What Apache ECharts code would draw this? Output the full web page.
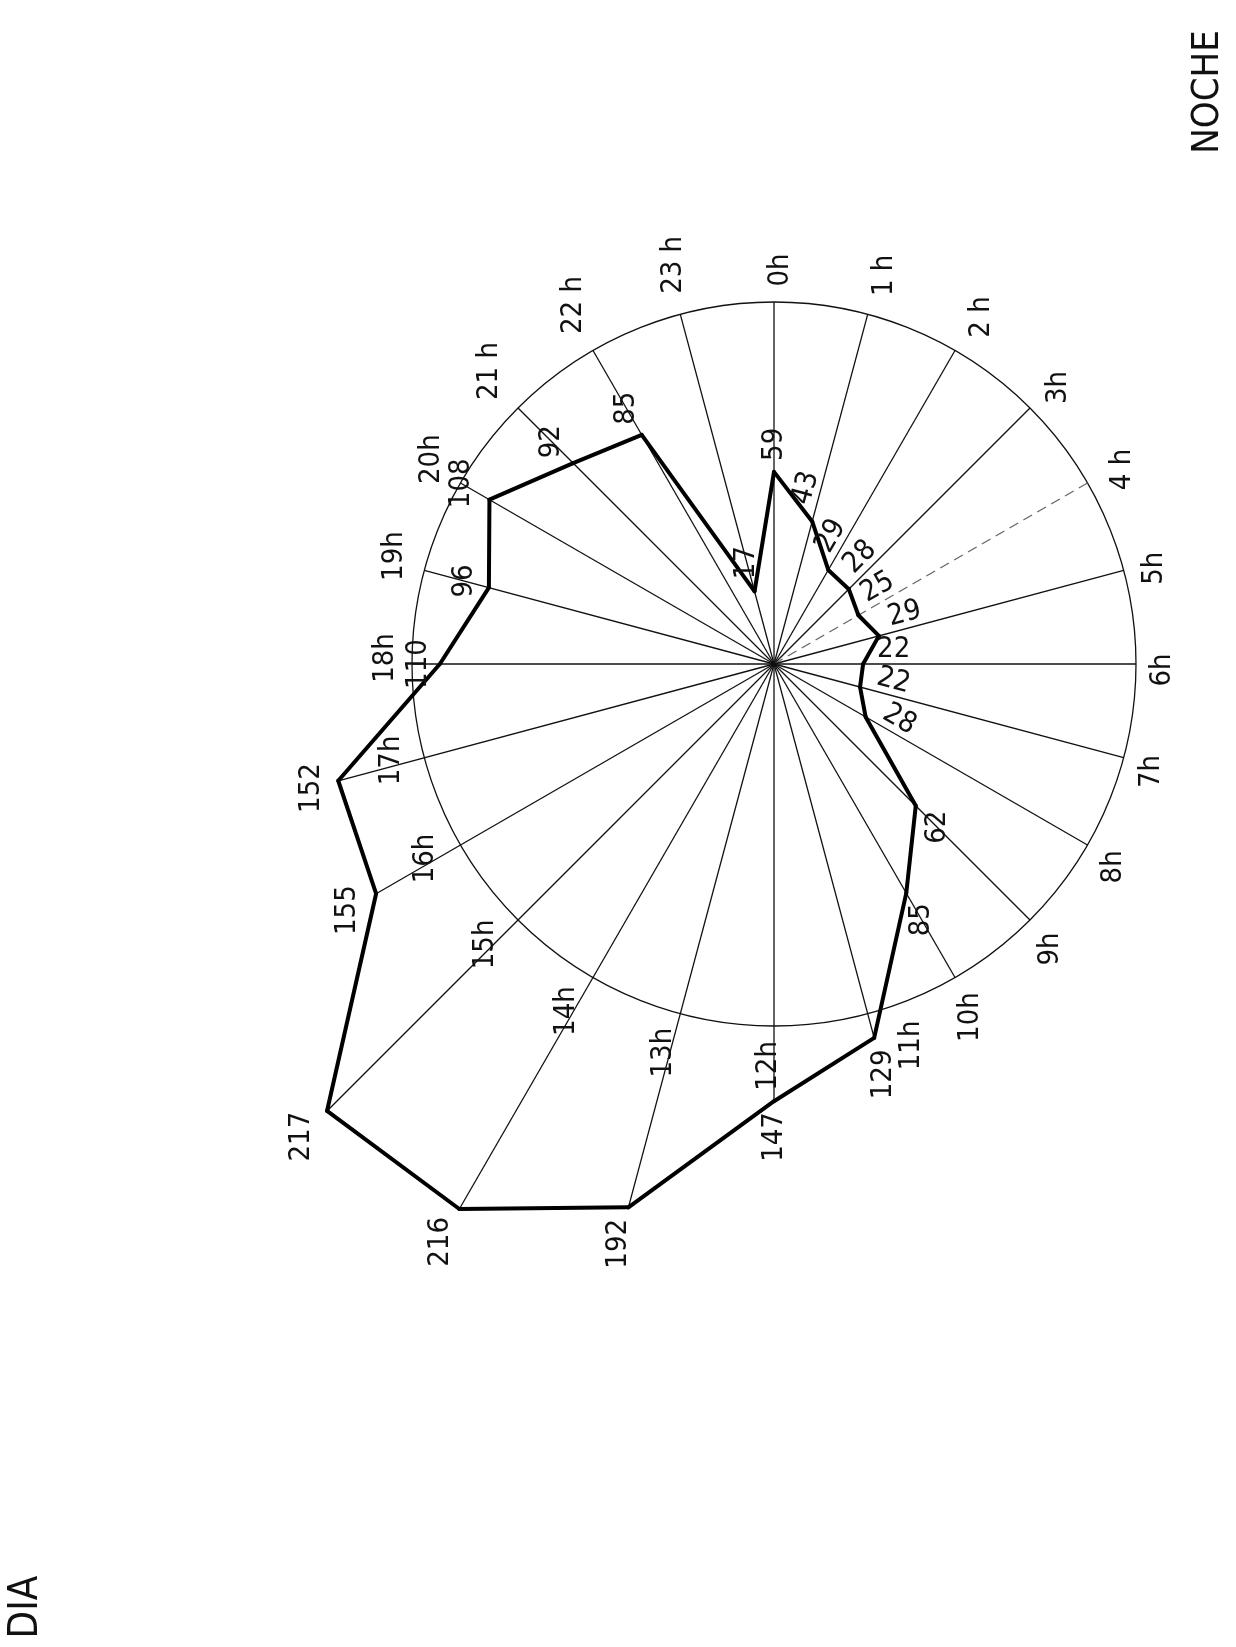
<!DOCTYPE html>
<html>
<head>
<meta charset="utf-8">
<script src="https://cdn.jsdelivr.net/npm/echarts@6/dist/echarts.min.js"></script>
<style>
html,body{margin:0;padding:0;background:#fff}
#main{width:1236px;height:1647px}
</style>
</head>
<body>
<div id="main"></div>
<script>
// horas del dia y numero de registros por hora
var hours = [0,1,2,3,4,5,6,7,8,9,10,11,12,13,14,15,16,17,18,19,20,21,22,23];
var hourLabels = ['0h','1 h','2 h','3h','4 h','5h','6h','7h','8h','9h','10h','11h',
                  '12h','13h','14h','15h','16h','17h','18h','19h','20h','21 h','22 h','23 h'];
var counts = [59,43,29,28,25,29,22,22,28,62,85,129,147,192,216,217,155,152,110,96,108,92,85,17];

var rMin = -10;     // valor en el centro
var rCircle = 120;  // valor del circulo exterior
var FONT = '"DejaVu Sans Condensed","DejaVu Sans",sans-serif';

var chart = echarts.init(document.getElementById('main'));

// datos en formato polar [radio, angulo]
var pts = hours.map(function (h, i) { return [counts[i], h]; });

function spoke(params, api) {
    var v = api.value(0), h = api.value(1);
    var c = api.coord([rMin, h]);
    var e = api.coord([Math.max(v, rCircle), h]);
    return {
        type: 'line',
        shape: {x1: c[0], y1: c[1], x2: e[0], y2: e[1]},
        style: {
            stroke: h === 4 ? '#666' : '#111',
            lineWidth: 1.3,
            lineDash: h === 4 ? [10, 6] : null
        }
    };
}

// tramo del poligono entre una hora y la siguiente
function edge(params, api) {
    var i = params.dataIndex;
    var j = (i + 1) % hours.length;
    var a = api.coord([counts[i], hours[i]]);
    var b = api.coord([counts[j], hours[j]]);
    return {
        type: 'line',
        shape: {x1: a[0], y1: a[1], x2: b[0], y2: b[1]},
        style: {stroke: '#000', lineWidth: 4, lineCap: 'round'}
    };
}

function labels(params, api) {
    var i = params.dataIndex;
    var v = api.value(0), h = api.value(1);
    var th = h * Math.PI / 12;
    var ux = Math.sin(th), uy = -Math.cos(th);
    var tx = Math.cos(th), ty = Math.sin(th);   // tangente, sentido horario
    var p = api.coord([v, h]);
    var rim = api.coord([rCircle, h]);
    var fs = 29;
    var hLen = hourLabels[i].length * 0.55 * fs, hH = 0.75 * fs;
    var dh = Math.abs(ux) * hH / 2 + Math.abs(uy) * hLen / 2 + 16;
    // si el punto cae justo fuera del circulo, el rotulo de la hora se aparta
    var side = (v > rCircle && v < rCircle + 15) ? -34 : 6;
    var els = [{
        type: 'text',
        x: rim[0] + ux * dh + tx * side, y: rim[1] + uy * dh + ty * side,
        rotation: Math.PI / 2,
        style: {text: hourLabels[i], fill: '#111', font: fs + 'px ' + FONT,
                align: 'center', verticalAlign: 'middle'}
    }];
    var txt = String(v);
    if (h >= 1 && h <= 8) {
        // rotulos escritos a lo largo del radio
        els.push({
            type: 'text',
            x: p[0] + ux * 14, y: p[1] + uy * 14,
            rotation: Math.PI / 2 - th,
            style: {text: txt, fill: '#111', font: fs + 'px ' + FONT,
                    align: 'left', verticalAlign: 'bottom'}
        });
    } else {
        var L = txt.length * 0.57 * fs;
        var d = Math.abs(ux) * hH / 2 + Math.abs(uy) * L / 2 + 11;
        els.push({
            type: 'text',
            x: p[0] + ux * d, y: p[1] + uy * d,
            rotation: Math.PI / 2,
            style: {text: txt, fill: '#111', font: fs + 'px ' + FONT,
                    align: 'center', verticalAlign: 'middle'}
        });
    }
    return {type: 'group', children: els};
}

chart.setOption({
    backgroundColor: '#fff',
    animation: false,
    polar: {center: [774, 664], radius: 362},
    angleAxis: {
        type: 'value', min: 0, max: 24, interval: 1,
        startAngle: 90, clockwise: true,
        axisLine: {show: true, lineStyle: {color: '#111', width: 1.3}},
        axisTick: {show: false},
        axisLabel: {show: false},
        splitLine: {show: false}
    },
    radiusAxis: {
        type: 'value', min: rMin, max: rCircle,
        axisLine: {show: false}, axisTick: {show: false},
        axisLabel: {show: false}, splitLine: {show: false}
    },
    graphic: [
        {type: 'text', x: 1208, y: 92, rotation: Math.PI / 2,
         style: {text: 'NOCHE', fill: '#111', font: '38px ' + FONT, align: 'center', verticalAlign: 'middle'}},
        {type: 'text', x: 27, y: 1607, rotation: Math.PI / 2,
         style: {text: 'DIA', fill: '#111', font: '40px ' + FONT, align: 'center', verticalAlign: 'middle'}}
    ],
    series: [
        {
            type: 'custom', coordinateSystem: 'polar',
            data: pts, renderItem: spoke, z: 1
        },
        {
            type: 'custom', coordinateSystem: 'polar',
            data: pts, renderItem: edge, z: 2
        },
        {
            type: 'custom', coordinateSystem: 'polar',
            data: pts, renderItem: labels, z: 3
        }
    ]
});
</script>
</body>
</html>
